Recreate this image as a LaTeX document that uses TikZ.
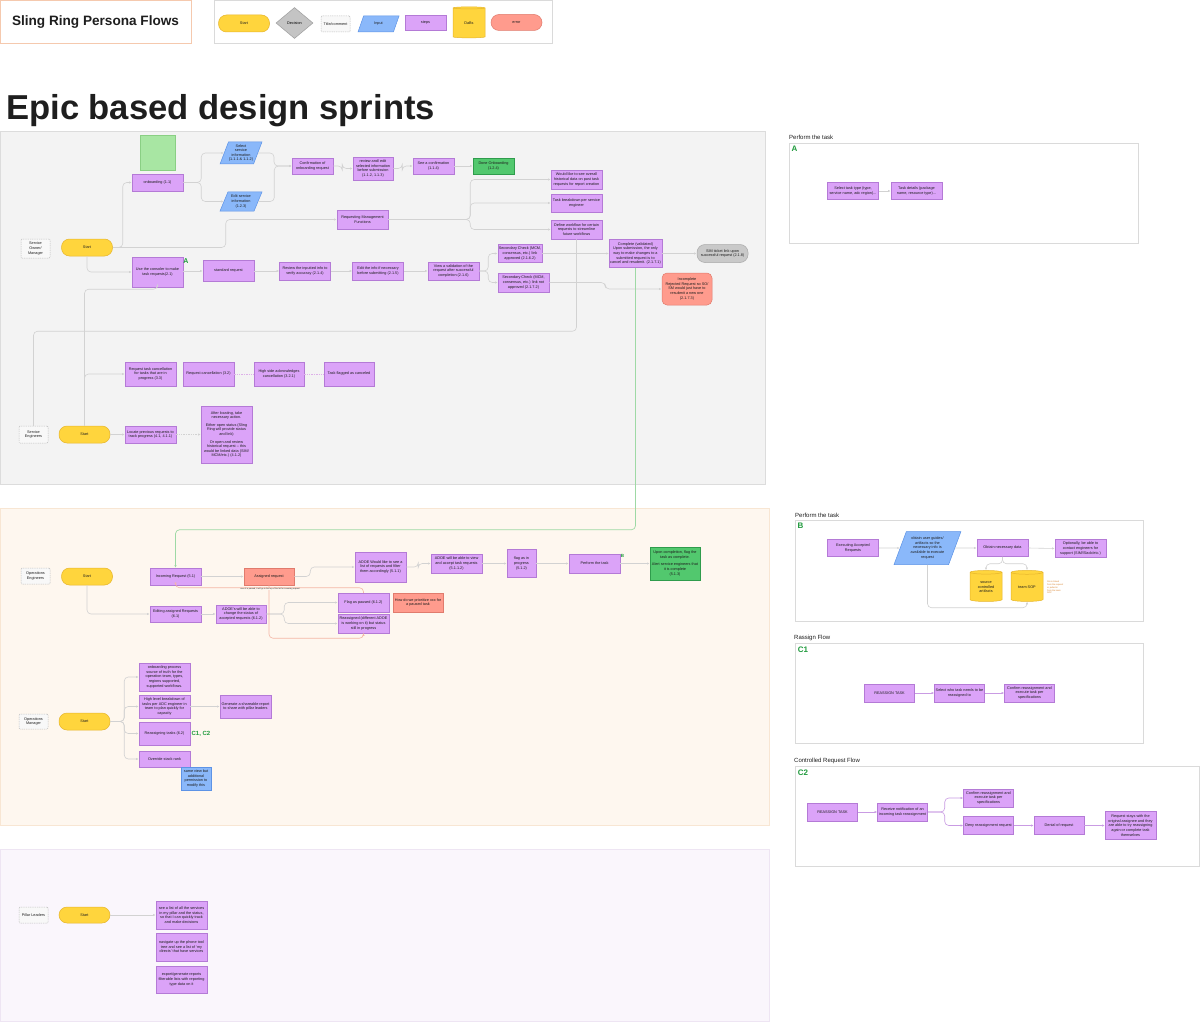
\documentclass[tikz,border=0pt]{standalone}
\usepackage{fontspec}
\setmainfont{Liberation Sans}
\usetikzlibrary{arrows.meta,positioning,calc,shapes.geometric}
\definecolor{Ink}{HTML}{1E1E1E}
\definecolor{Peach}{HTML}{F5C9AE}
\definecolor{PanelLine}{HTML}{DADADA}
\definecolor{LaneGray}{HTML}{F3F3F3}
\definecolor{LaneGrayLine}{HTML}{DCDCDC}
\definecolor{LanePeach}{HTML}{FEF7EF}
\definecolor{LanePeachLine}{HTML}{F8E6D3}
\definecolor{LaneLilac}{HTML}{FAF6FC}
\definecolor{LaneLilacLine}{HTML}{EEE5F3}
\definecolor{Step}{HTML}{DBA3F8}
\definecolor{StepLine}{HTML}{B47AD6}
\definecolor{StartFill}{HTML}{FFD53D}
\definecolor{StartLine}{HTML}{E6B52C}
\definecolor{InputFill}{HTML}{8AB8FA}
\definecolor{InputLine}{HTML}{5D93E6}
\definecolor{DoneFill}{HTML}{52C86E}
\definecolor{DoneLine}{HTML}{2F9C4C}
\definecolor{NoteFill}{HTML}{A8E6A3}
\definecolor{NoteLine}{HTML}{8ACF84}
\definecolor{ErrFill}{HTML}{FF9B8D}
\definecolor{ErrLine}{HTML}{E07B6D}
\definecolor{SimFill}{HTML}{C9C9C9}
\definecolor{SimLine}{HTML}{A9A9A9}
\definecolor{DecFill}{HTML}{C4C4C4}
\definecolor{DecLine}{HTML}{9E9E9E}
\definecolor{RoleFill}{HTML}{F8F8F8}
\definecolor{RoleLine}{HTML}{BDBDBD}
\definecolor{LinkGray}{HTML}{D2D2D2}
\definecolor{CancelPink}{HTML}{DDB0E8}
\definecolor{LoopSalmon}{HTML}{F4B7A6}
\definecolor{HandGreen}{HTML}{9ED9A5}
\definecolor{FlowPurple}{HTML}{C99BE3}
\definecolor{TagGreen}{HTML}{1F9A3C}
\definecolor{NoteOrange}{HTML}{D9822B}
\newcommand{\bxf}{\fontsize{3.8}{4.6}\selectfont}
\tikzset{
  stepbox/.style={draw=StepLine,fill=Step,line width=.5pt,minimum width=51pt,minimum height=17pt,align=center,inner sep=1pt,font=\bxf,text=Ink},
  startbox/.style={draw=StartLine,fill=StartFill,line width=.5pt,rounded corners=8pt,minimum width=51pt,minimum height=17pt,font=\bxf,text=Ink},
  rolebox/.style={draw=RoleLine,fill=RoleFill,dash pattern=on 1pt off .8pt,line width=.5pt,rounded corners=1pt,minimum width=29pt,minimum height=17pt,align=center,inner sep=.5pt,font=\bxf,text=Ink},
  inputbox/.style={trapezium,trapezium left angle=65,trapezium right angle=115,trapezium stretches=true,draw=InputLine,fill=InputFill,line width=.5pt,align=center,inner sep=0pt,font=\bxf,text=Ink},
  donebox/.style={stepbox,draw=DoneLine,fill=DoneFill},
  errbox/.style={stepbox,draw=ErrLine,fill=ErrFill},
  notebox/.style={stepbox,draw=NoteLine,fill=NoteFill},
  dbbox/.style={cylinder,shape border rotate=90,aspect=.22,draw=StartLine,fill=StartFill,line width=.5pt,minimum width=32pt,minimum height=31pt,align=center,inner sep=0pt,font=\bxf,text=Ink},
  link/.style={draw=LinkGray,line width=.6pt,rounded corners=4pt,-{Latex[length=2.6pt,width=2.2pt]}},
  cancel/.style={draw=CancelPink,line width=.6pt,dash pattern=on 1.4pt off 1pt},
  loopback/.style={link,draw=LoopSalmon},
  handoff/.style={link,draw=HandGreen,line width=.7pt},
  reflow/.style={link,draw=FlowPurple},
  lane/.style={line width=.5pt},
  tag/.style={text=TagGreen,font=\bfseries\fontsize{7}{8}\selectfont,inner sep=0pt},
  panelhead/.style={anchor=west,inner sep=0pt,font=\fontsize{6}{7}\selectfont,text=Ink},
  panel/.style={draw=PanelLine,fill=white,line width=.7pt}
}
\begin{document}
\begin{tikzpicture}[x=1pt,y=-1pt]
\useasboundingbox (0,0) rectangle (1200,1022);
\fill[white] (0,0) rectangle (1200,1022);

% header and legend
\draw[draw=Peach,line width=.7pt] (0.5,0.5) rectangle (191,43);
\node[font=\bfseries\fontsize{13.6}{15}\selectfont,text=Ink] (title) at (95.5,22) {Sling Ring Persona Flows};
\draw[draw=PanelLine,line width=.5pt] (214,0.5) rectangle (552,43);
\node[startbox] (lstart) at (244,23.5) {Start};
\node[diamond,draw=DecLine,fill=DecFill,line width=.5pt,minimum width=37pt,minimum height=31pt,inner sep=0pt,font=\bxf] (ldec) at (294.5,23) {Decision};
\node[rolebox,minimum height=16pt] (lnote) at (335.5,24) {Title/comment};
\node[inputbox,minimum width=41pt,minimum height=16pt] (linput) at (378.5,24) {Input};
\node[stepbox,minimum width=41pt,minimum height=15pt] (lstep) at (425.5,23) {steps};
\node[dbbox] (ldata) at (469,23) {DaBs};
\node[errbox,rounded corners=8pt,minimum height=16pt] (lerr) at (516.5,22.5) {error};

\node[anchor=west,font=\bfseries\fontsize{34.6}{38}\selectfont,text=Ink,inner sep=0pt] (epic) at (6,111) {Epic based design sprints};

% lanes
\draw[lane,draw=LaneGrayLine,fill=LaneGray] (0.5,131.5) rectangle (765,484);
\draw[lane,draw=LanePeachLine,fill=LanePeach] (0.5,508.5) rectangle (769,825);
\draw[lane,draw=LaneLilacLine,fill=LaneLilac] (0.5,849.5) rectangle (769,1021.5);

% service owner / manager
\node[notebox,minimum width=35pt,minimum height=35pt] (sticky) at (157.5,152.5) {};
\node[stepbox] (onb) at (157.5,182.5) {onboarding (1.1)};
\node[inputbox,minimum width=42pt,minimum height=22pt] (sel) at (241,153) {Select\\service\\information\\(1.1.1 \& 1.1.2)};
\node[inputbox,minimum width=42pt,minimum height=19pt] (edt) at (241,201.5) {Edit service\\information\\(1.2.3)};
\node[stepbox,minimum width=41pt,minimum height=16pt] (conf) at (312.5,166) {Confirmation of\\onboarding request};
\node[stepbox,minimum width=40pt,minimum height=23pt] (rev) at (373,168.5) {review and/ edit\\selected information\\before submission\\(1.1.2, 1.1.3)};
\node[stepbox,minimum width=41pt,minimum height=16pt] (seec) at (433.5,166) {See a confirmation\\(1.1.4)};
\node[donebox,minimum width=41pt,minimum height=16pt] (done) at (493.5,166) {Done Onboarding\\(1.2.4)};
\node[rolebox,minimum height=19pt] (som) at (35.5,248.5) {Service\\Owner/\\Manager};
\node[startbox] (st1) at (87,247.5) {Start};
\node[stepbox,minimum height=19pt] (rmf) at (362.5,219.5) {Requesting Management\\Functions};
\node[stepbox,minimum height=19pt] (hist) at (576.5,179.5) {Would like to see overall\\historical data on past task\\requests for report creation};
\node[stepbox,minimum height=18pt] (tbrk) at (576.5,203) {Task breakdown per service\\engineer};
\node[stepbox,minimum height=19pt] (defw) at (576.5,229.5) {Define workflow for certain\\requests to streamline\\future workflows};
\node[stepbox,minimum height=30pt] (cons) at (157.5,272) {Use the consoler to make\\task requests(2.1)};
\node[tag] (taga) at (186,261) {A};
\node[stepbox,minimum height=21pt] (std) at (228.5,271) {standard request};
\node[stepbox,minimum height=18pt] (rvw) at (305,271) {Review the inputted info to\\verify accuracy (2.1.4)};
\node[stepbox,minimum height=18pt] (edi) at (378,271) {Edit the info if necessary\\before submitting (2.1.5)};
\node[stepbox,minimum height=18pt] (val) at (453.5,271) {View a validation of the\\request after successful\\completion (2.1.6)};
\node[stepbox,minimum width=42pt,minimum height=18pt] (sca) at (520,253.5) {Secondary Check (MCM,\\consensus, etc.) link\\approved (2.1.6.2)};
\node[stepbox,minimum height=19pt] (scn) at (523.5,282.5) {Secondary Check (MCM,\\consensus, etc.) link not\\approved (2.1.7.2)};
\node[stepbox,minimum height=28pt] (cmp) at (635.5,253.5) {Complete (validated)\\Upon submission, the only\\way to make changes to a\\submitted request is to\\cancel and resubmit. (2.1.7.1)};
\node[stepbox,draw=SimLine,fill=SimFill,rounded corners=8pt,minimum height=18pt] (sim) at (722.5,253.5) {SIM ticket link upon\\successful request (2.1.8)};
\node[errbox,rounded corners=5pt,minimum width=50pt,minimum height=32pt] (inc) at (687,289) {Incomplete\\Rejected Request so SO/\\SM would just have to\\resubmit a new one\\(2.1.7.3)};

% service engineers
\node[rolebox] (seng) at (33.5,434.5) {Service\\Engineers};
\node[startbox] (st2) at (84.5,434.5) {Start};
\node[stepbox,minimum height=24pt] (rtc) at (150.5,374) {Request task cancellation\\for tasks that are in\\progress (3.3)};
\node[stepbox,minimum height=24pt] (rcn) at (208.5,374) {Request cancellation (3.2)};
\node[stepbox,minimum width=50pt,minimum height=24pt] (hsa) at (279,374) {High side acknowledges\\cancellation (3.2.1)};
\node[stepbox,minimum width=50pt,minimum height=24pt] (tfc) at (349,374) {Task flagged as canceled};
\node[stepbox] (loc) at (150.5,434.5) {Locate previous requests to\\track progress (4.1, 4.1.1)};
\node[stepbox,minimum height=57pt] (aft) at (226.5,434.5) {After locating, take\\necessary action.\\[3pt]Either open status (Sling\\Ring will provide status\\and link)\\[3pt]Or open and review\\historical request -- this\\would be linked data (SIM/\\MCM/etc.) (4.1.2)};

% operations engineers
\node[rolebox,minimum height=16pt] (oeng) at (35.5,576) {Operations\\Engineers};
\node[startbox] (st3) at (87,576.5) {Start};
\node[stepbox] (inr) at (175.5,576.5) {Incoming Request (5.1)};
\node[errbox,minimum width=50pt] (asg) at (269,576.5) {Assigned request};
\node[stepbox,minimum height=30pt] (adl) at (380.5,567) {ADOE Would like to see a\\list of requests and filter\\them accordingly (5.1.1)};
\node[stepbox,minimum height=19pt] (adv) at (456.5,563.5) {ADOE will be able to view\\and accept task requests\\(5.1.1.2)};
\node[stepbox,minimum width=29pt,minimum height=28pt] (fip) at (521.5,563.5) {flag as in\\progress\\(5.1.2)};
\node[stepbox,minimum height=19pt] (prf) at (594.5,563.5) {Perform the task};
\node[tag,font=\bfseries\fontsize{4.5}{5}\selectfont] (tagb) at (622.5,556) {B};
\node[donebox,minimum width=50pt,minimum height=33pt] (upc) at (675,563.5) {Upon completion, flag the\\task as complete.\\[3pt]Alert service engineers that\\it is complete\\(5.1.3)};
\node[stepbox,minimum height=16pt] (edr) at (175.5,614) {Editing assigned Requests\\(6.1)};
\node[stepbox,minimum width=50pt,minimum height=18pt] (ads) at (241,614) {ADOE's will be able to\\change the status of\\accepted requests (6.1.2)};
\node[stepbox,minimum height=19pt] (fps) at (363.5,602.5) {Flag as paused (6.1.2)};
\node[stepbox,minimum height=19pt] (rea) at (363.5,623.5) {Reassigned (different ADOE\\is working on it) but status\\still in progress};
\node[errbox,minimum width=50pt,minimum height=19pt] (prio) at (418,602.5) {How do we prioritize xxx for\\a paused task};

% operations manager
\node[rolebox,minimum height=15pt] (omgr) at (33.5,721.5) {Operations\\Manager};
\node[startbox] (st4) at (84.5,721.5) {Start};
\node[stepbox,minimum height=28pt] (obp) at (164.5,677) {onboarding process\\source of truth for the\\operation team, types,\\regions supported,\\supported workflows.};
\node[stepbox,minimum height=23pt] (hlb) at (164.5,706.5) {High level breakdown of\\tasks per ADC engineer in\\team to plan quickly for\\capacity};
\node[stepbox,minimum height=23pt] (rtk) at (164.5,733.5) {Reassigning tasks (6.2)};
\node[tag,font=\bfseries\fontsize{6}{7}\selectfont] (tagc) at (201,734) {C1, C2};
\node[stepbox,minimum height=16pt] (ovr) at (164.5,759) {Override stack rank};
\node[stepbox,draw=InputLine,fill=InputFill,minimum width=30pt,minimum height=23pt] (perm) at (196,778.5) {same view but\\additional\\permission to\\modify this};
\node[stepbox,minimum height=23pt] (gen) at (245.5,706.5) {Generate a shareable report\\to share with pillar leaders};

% pillar leaders
\node[rolebox,minimum height=16pt] (pldr) at (33.5,915) {Pillar Leaders};
\node[startbox,minimum height=16pt] (st5) at (84.5,915) {Start};
\node[stepbox,minimum height=28pt] (sal) at (181.5,915) {see a list of all the services\\in my pillar and the status,\\so that I can quickly track\\and make decisions};
\node[stepbox,minimum height=28pt] (nav) at (181.5,947) {navigate up the phone tool\\tree and see a list of `my\\directs' that have services};
\node[stepbox,minimum height=27pt] (exp) at (181.5,979.5) {export/generate reports\\filterable lists with reporting\\type data on it};

% connectors, service owner
\draw[link] (st1.east) -- ++(10,0) |- (onb.west);
\draw[link] (st1.east) -- ++(113,0) |- (rmf.west);
\draw[link] (st1.south) |- (cons.west);
\draw[link] (onb.east) -- ++(18,0) |- (sel.west);
\draw[link] (onb.east) -- ++(18,0) |- (edt.west);
\draw[link] (sel.east) -- ++(16,0) |- (conf.west);
\draw[link] (edt.east) -- ++(16,0) |- (conf.west);
\draw[link] (conf.east) -- ++(9,0) |- (rev.west);
\draw[link] (rev.east) -- ++(9,0) |- (seec.west);
\draw[link] (seec.east) -- (done.west);
\draw[link] (rmf.east) -- ++(82,0) |- (hist.west);
\draw[link] (rmf.east) -- ++(82,0) |- (tbrk.west);
\draw[link] (rmf.east) -- ++(82,0) |- (defw.west);
\draw[link] (cons.east |- std.west) -- (std.west);
\draw[link] (std.east) -- (rvw.west);
\draw[link] (rvw.east) -- (edi.west);
\draw[link] (edi.east) -- (val.west);
\draw[link] (val.east) -- ++(9,0) |- (sca.west);
\draw[link] (val.east) -- ++(9,0) |- (scn.west);
\draw[link] (sca.east) -- (cmp.west);
\draw[link] (scn.east) -- ++(56,0) |- (inc.west);
\draw[link] (cmp.east) -- (sim.west);
\draw[link,-] (defw.south) -- ++(0,92) -| (seng.north);
\draw[link,-] (cons.south) -- ++(0,2) -| (st2.north);
\draw[link] (st2.north) |- (rtc.west);
\draw[cancel] (rcn.east) -- (hsa.west);
\draw[cancel] (hsa.east) -- (tfc.west);
\draw[link] (st2.east) -- (loc.west);
\draw[link,dash pattern=on 1.4pt off 1pt] (loc.east) -- (aft.west);
\draw[handoff] (cmp.south) -- ++(0,262) -| (inr.north);

% connectors, operations
\draw[link] (st3.south) |- (edr.west);
\draw[link] (inr.east) -- (asg.west);
\draw[link] (asg.east) -- ++(16,0) |- (adl.west);
\draw[link] (adl.east) -- ++(12,0) |- (adv.west);
\draw[link] (adv.east) -- (fip.west);
\draw[link] (fip.east) -- (prf.west);
\draw[link] (prf.east) -- (upc.west);
\draw[link] (edr.east) -- (ads.west);
\draw[link] (ads.east) -- ++(18,0) |- (fps.west);
\draw[link] (ads.east) -- ++(18,0) |- (rea.west);
\draw[loopback] (fps.north) -- ++(0,-5) -| (inr.south);
\draw[loopback] (asg.south) -- ++(0,53) -| (rea.south);
\node[font=\fontsize{2}{2.4}\selectfont,text=Ink,inner sep=.3pt,fill=LanePeach] (pnote) at (270,589) {once it is paused, it will go to the top of the list for incoming request};
\draw[link] (st4.east) -- ++(14,0) |- (obp.west);
\draw[link] (st4.east) -- ++(14,0) |- (hlb.west);
\draw[link] (st4.east) -- ++(14,0) |- (rtk.west);
\draw[link] (st4.east) -- ++(14,0) |- (ovr.west);
\draw[link] (hlb.east) -- (gen.west);
\draw[link] (st5.east) -- (sal.west);

% side panels
\node[panelhead] (heada) at (789,137.5) {Perform the task};
\draw[panel] (789,143) rectangle (1138,243);
\node[tag,font=\bfseries\fontsize{8}{9}\selectfont] (pa) at (794.5,149) {A};
\node[stepbox] (pa1) at (853,191) {Select task type (type,\\service name, adc region)...};
\node[stepbox] (pa2) at (916.5,191) {Task details (package\\name, resource type)...};
\draw[link] (pa1.east) -- (pa2.west);

\node[panelhead] (headb) at (795,515.5) {Perform the task};
\draw[panel] (795,520) rectangle (1143,621);
\node[tag,font=\bfseries\fontsize{8}{9}\selectfont] (pb) at (800.5,526) {B};
\node[stepbox] (exe) at (853,548) {Executing Accepted\\Requests};
\node[inputbox,trapezium left angle=66,trapezium right angle=114,minimum width=67pt,minimum height=33pt] (ugd) at (927.5,548) {obtain user guides/\\artifacts so the\\necessary info is\\available to execute\\request};
\node[stepbox] (obd) at (1002.5,548) {Obtain necessary data};
\node[stepbox,minimum height=18pt] (opt) at (1080.5,548.5) {Optionally, be able to\\contact engineers for\\support (SIM/Slack/etc.)};
\node[dbbox] (cy1) at (986,587) {source\\controlled\\artifacts};
\node[dbbox] (cy2) at (1027,587) {team SOP};
\node[anchor=west,align=left,font=\fontsize{2.2}{2.8}\selectfont,text=NoteOrange,inner sep=0pt] (onote) at (1047,587.5) {this is linked\\from the request\\or pulled in\\from the team\\SOP};
\draw[link] (exe.east) -- (ugd.west);
\draw[link] (ugd.east) -- (obd.west);
\draw[link] (obd.east) -- (opt.west);
\draw[link] (obd.south) -- ++(0,7) -| (cy1.north);
\draw[link] (obd.south) -- ++(0,7) -| (cy2.north);
\draw[link] (ugd.south) -- ++(0,43) -| (cy2.south);

\node[panelhead] (headc) at (794,637.5) {Rassign Flow};
\draw[panel] (795,643) rectangle (1143,743);
\node[tag,font=\bfseries\fontsize{8}{9}\selectfont] (pc1) at (803,650) {C1};
\node[stepbox,minimum width=50pt,minimum height=18pt] (ra1) at (889.5,693) {REASSIGN TASK};
\node[stepbox,minimum width=50pt,minimum height=18pt] (ra2) at (959.5,693) {Select who task needs to be\\reassigned to};
\node[stepbox,minimum width=50pt,minimum height=18pt] (ra3) at (1029.5,693) {Confirm reassignment and\\execute task per\\specifications};
\draw[reflow] (ra1.east) -- (ra2.west);
\draw[reflow] (ra2.east) -- (ra3.west);

\node[panelhead] (headd) at (794,760.5) {Controlled Request Flow};
\draw[panel] (795,766) rectangle (1199,866);
\node[tag,font=\bfseries\fontsize{8}{9}\selectfont] (pc2) at (803,773) {C2};
\node[stepbox,minimum width=50pt,minimum height=18pt] (rb1) at (832.5,812) {REASSIGN TASK};
\node[stepbox,minimum width=50pt,minimum height=18pt] (rb2) at (902.5,812) {Receive notification of an\\incoming task reassignment};
\node[stepbox,minimum width=50pt,minimum height=18pt] (rb3) at (988.5,798) {Confirm reassignment and\\execute task per\\specifications};
\node[stepbox,minimum width=50pt,minimum height=18pt] (rb4) at (988.5,825.5) {Deny reassignment request};
\node[stepbox,minimum width=50pt,minimum height=18pt] (rb5) at (1059,825.5) {Denial of request};
\node[stepbox,minimum height=28pt] (rb6) at (1130.5,825.5) {Request stays with the\\original assignee and they\\are able to try reassigning\\again or complete task\\themselves};
\draw[reflow] (rb1.east) -- (rb2.west);
\draw[reflow] (rb2.east) -- ++(17,0) |- (rb3.west);
\draw[reflow] (rb2.east) -- ++(17,0) |- (rb4.west);
\draw[reflow] (rb4.east) -- (rb5.west);
\draw[reflow] (rb5.east) -- (rb6.west);
\end{tikzpicture}
\end{document}
